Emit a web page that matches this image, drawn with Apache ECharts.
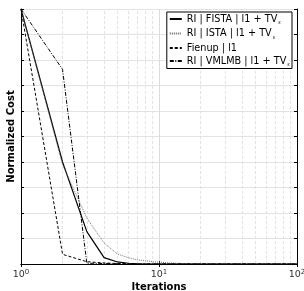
<!DOCTYPE html>
<html>
<head>
<meta charset="utf-8">
<script src="https://cdn.jsdelivr.net/npm/echarts@6/dist/echarts.min.js"></script>
<style>
  html, body { margin: 0; padding: 0; background: #fff; }
  #chart { width: 304px; height: 291px; }
</style>
</head>
<body>
<div id="chart"></div>
<script>
  // iterations (x) and normalized cost per method
  var iterations = [1, 2, 3, 4, 5, 6, 7, 8, 9, 10, 12, 15, 20, 30, 50, 100]
  var fista  = [1, 0.40, 0.127, 0.025, 0.008, 0.003, 0.001, 0, 0, 0, 0, 0, 0, 0, 0, 0]
  var ista   = [1, 0.39, 0.18, 0.082, 0.039, 0.025, 0.016, 0.013, 0.009, 0.007, 0.004, 0.002, 0.001, 0, 0, 0]
  var fienup = [1, 0.038, 0.009, 0.004, 0.002, 0.001, 0, 0, 0, 0, 0, 0, 0, 0, 0, 0]
  var vmlmb  = [1, 0.763, 0.003, 0.002, 0.001, 0, 0, 0, 0, 0, 0, 0, 0, 0, 0, 0]
  var names = ['RI | FISTA | l1 + TV', 'RI | ISTA | l1 + TV', 'Fienup | l1', 'RI | VMLMB | l1 + TV']
  var subs  = ['ε', 'ε', '', 'ε']
  // minor log grid positions
  var minorX = [2, 3, 4, 5, 6, 7, 8, 9, 20, 30, 40, 50, 60, 70, 80, 90]

  function pairs(ys) {
    return iterations.map(function (x, i) { return [x, ys[i]] })
  }

  var font = 'DejaVu Sans'
  var chart = echarts.init(document.getElementById('chart'))

  var mkSeries = function (idx, ys, style) {
    return {
      name: names[idx],
      type: 'line',
      data: pairs(ys),
      symbol: 'none',
      lineStyle: style,
      itemStyle: { color: style.color },
      z: 3,
      animation: false
    }
  }

  var s0 = mkSeries(0, fista, { color: '#000', width: 1.2, type: 'solid' })
  s0.markLine = {
    silent: true,
    symbol: 'none',
    label: { show: false },
    lineStyle: { color: '#dcdcdc', width: 0.8, type: [3, 2] },
    data: minorX.map(function (v) { return { xAxis: v } }),
    z: 1
  }

  chart.setOption({
    animation: false,
    textStyle: { fontFamily: font },
    grid: { left: 21, right: 7, top: 9, bottom: 27, outerBoundsMode: 'none', containLabel: false },
    legend: {
      orient: 'vertical',
      right: 12,
      top: 12,
      padding: [2, 2, 1, 2],
      itemGap: 3,
      itemWidth: 12,
      itemHeight: 10,
      borderColor: '#000',
      borderWidth: 1,
      backgroundColor: '#fff',
      itemStyle: { opacity: 0 },
      data: names,
      formatter: function (name) {
        var i = names.indexOf(name)
        return '{t|' + name + '}' + (subs[i] ? '{e|' + subs[i] + '}' : '')
      },
      textStyle: {
        rich: {
          t: { fontFamily: font, fontSize: 9.7, color: '#000', lineHeight: 13 },
          e: { fontFamily: font, fontSize: 5, color: '#000', verticalAlign: 'bottom', padding: [6, 0, 0, 1] }
        }
      }
    },
    xAxis: [{
      type: 'log',
      min: 1,
      max: 100,
      logBase: 10,
      name: 'Iterations',
      nameLocation: 'middle',
      nameGap: 18,
      nameMoveOverlap: false,
      nameTextStyle: { fontFamily: font, fontWeight: 'bold', fontSize: 10, color: '#000' },
      axisLine: { lineStyle: { color: '#000', width: 1 } },
      axisTick: { inside: true, length: 3, lineStyle: { color: '#000' } },
      axisLabel: {
        margin: 5,
        formatter: function (v) {
          return '{b|10}{s|' + Math.round(Math.log10(v)) + '}'
        },
        rich: {
          b: { fontFamily: font, fontSize: 9.5, color: '#333', lineHeight: 12 },
          s: { fontFamily: font, fontSize: 7, color: '#333', verticalAlign: 'top', padding: [0, 0, 5, 0] }
        }
      },
      splitLine: { show: true, lineStyle: { color: '#dcdcdc', width: 1 } }
    }, {
      type: 'log',
      min: 1,
      max: 100,
      position: 'top',
      axisLine: { show: true, lineStyle: { color: '#000', width: 1 } },
      axisTick: { show: true, inside: true, length: 3, lineStyle: { color: '#000' } },
      axisLabel: { show: false },
      splitLine: { show: false }
    }],
    yAxis: [{
      type: 'value',
      min: 0,
      max: 1,
      interval: 0.1,
      name: 'Normalized Cost',
      nameLocation: 'middle',
      nameGap: 5,
      nameTextStyle: { fontFamily: font, fontWeight: 'bold', fontSize: 10, color: '#000' },
      axisLine: { show: true, lineStyle: { color: '#000', width: 1 } },
      axisTick: { show: true, inside: true, length: 3, lineStyle: { color: '#000' } },
      axisLabel: { show: false },
      splitLine: { show: true, lineStyle: { color: '#e3e3e3', width: 1 } }
    }, {
      type: 'value',
      min: 0,
      max: 1,
      interval: 0.1,
      position: 'right',
      axisLine: { show: true, lineStyle: { color: '#000', width: 1 } },
      axisTick: { show: true, inside: true, length: 3, lineStyle: { color: '#000' } },
      axisLabel: { show: false },
      splitLine: { show: false }
    }],
    series: [
      s0,
      mkSeries(1, ista, { color: '#666', width: 0.9, type: [1, 1] }),
      mkSeries(2, fienup, { color: '#000', width: 1, type: [3, 2] }),
      mkSeries(3, vmlmb, { color: '#000', width: 1, type: [4, 1.5, 1, 1.5] })
    ]
  })
</script>
</body>
</html>
